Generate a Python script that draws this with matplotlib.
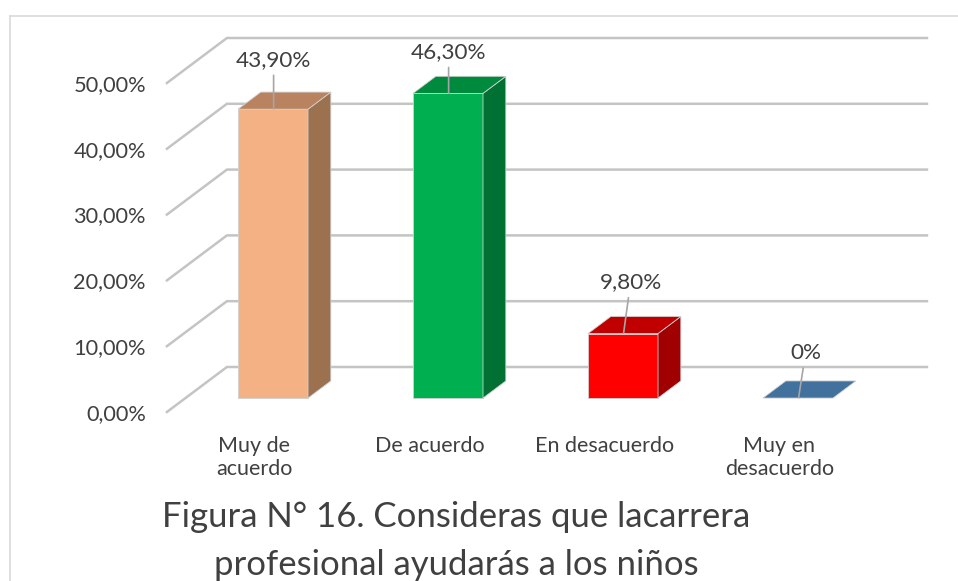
import numpy as np
import matplotlib
matplotlib.use('Agg')
import matplotlib.pyplot as plt
from matplotlib.patches import Polygon
from matplotlib.lines import Line2D

plt.rcParams['font.family'] = ['Lato', 'DejaVu Sans']

# datos
categorias = ['Muy de\nacuerdo', 'De acuerdo', 'En desacuerdo', 'Muy en\ndesacuerdo']
valores = [43.9, 46.3, 9.8, 0.0]
etiquetas = ['43,90%', '46,30%', '9,80%', '0%']
ticks = [0, 10, 20, 30, 40, 50]
tick_labels = ['0,00%', '10,00%', '20,00%', '30,00%', '40,00%', '50,00%']
titulo = 'Figura N° 16. Consideras que lacarrera\nprofesional ayudarás a los niños'

# colores (frente, arriba, lado)
colores = [
    ('#F4B183', '#B9835F', '#9C7150'),
    ('#00B050', '#008A3E', '#007033'),
    ('#FF0000', '#C00000', '#A00000'),
    ('#41719C', '#41719C', '#41719C'),
]

# profundidad 3D (en unidades de datos)
DX, DY = 0.343, 6.84
ANCHO = 0.4
D0, D1 = 0.31, 0.69


def proj(x, v, d):
    return x + d * DX, v + d * DY


fig = plt.figure(figsize=(9.58, 5.81), dpi=100)
ax = fig.add_axes([0, 0, 1, 1])
ax.set_xlim(-254.4 / 175, (958 - 254.4) / 175)
ax.set_ylim((412 - 581) / 6.58, 412 / 6.58)
ax.axis('off')

# borde del grafico
fig.add_artist(Line2D([9.5 / 958, 9.5 / 958], [0, 1 - 15.5 / 581], color='#d9d9d9', lw=1.2))
fig.add_artist(Line2D([9.5 / 958, 1], [1 - 15.5 / 581, 1 - 15.5 / 581], color='#d9d9d9', lw=1.2))

# lineas de cuadricula (pared izquierda y fondo)
x_ini, x_fin = -0.5, len(categorias) - 0.5
for t, lab in zip(ticks, tick_labels):
    p0 = proj(x_ini, t, 0)
    p1 = proj(x_ini, t, 1)
    p2 = proj(x_fin, t, 1)
    ax.plot([p0[0], p1[0], p2[0]], [p0[1], p1[1], p2[1]], color='#c4c4c4', lw=1.8,
            solid_joinstyle='miter', zorder=1)
    ax.text(p0[0] - 0.12, p0[1] - 0.3, lab, ha='right', va='center', fontsize=15.7, color='#404040')

# barras
offsets = [(0, 49), (0, 41), (7, 51), (7, 45)]
for i, (v, cols) in enumerate(zip(valores, colores)):
    xl, xr = i - ANCHO / 2, i + ANCHO / 2
    fr, top, side = cols
    front = [proj(xl, 0, D0), proj(xr, 0, D0), proj(xr, v, D0), proj(xl, v, D0)]
    lado = [proj(xr, 0, D0), proj(xr, 0, D1), proj(xr, v, D1), proj(xr, v, D0)]
    arriba = [proj(xl, v, D0), proj(xr, v, D0), proj(xr, v, D1), proj(xl, v, D1)]
    if v > 0:
        ax.add_patch(Polygon(front, closed=True, fc=fr, ec='#d0d0d0', lw=0.6, zorder=3))
        ax.add_patch(Polygon(lado, closed=True, fc=side, ec='#d0d0d0', lw=0.6, zorder=3))
    ax.add_patch(Polygon(arriba, closed=True, fc=top, ec='#d0d0d0', lw=0.6, zorder=3))

    # etiqueta de valor con linea guia
    px, py = proj(i, v, D0 + 0.01)
    ax.annotate(etiquetas[i], xy=(px, py), xytext=offsets[i], textcoords='offset pixels',
                ha='center', va='center', fontsize=16.2, color='#404040', zorder=5,
                arrowprops=dict(arrowstyle='-', color='#a6a6a6', lw=1.2, shrinkA=2, shrinkB=0))

    # etiqueta de categoria
    cx, cy = proj(i, 0, 0)
    ax.text(cx, cy - 3.7, categorias[i], ha='center', va='top', fontsize=15.5,
            color='#404040', linespacing=1.15)

fig.text(456 / 958, 1 - 541 / 581, titulo, ha='center', va='center', fontsize=25,
         color='#404040', linespacing=1.6)

fig.savefig('out.png', dpi=100)
